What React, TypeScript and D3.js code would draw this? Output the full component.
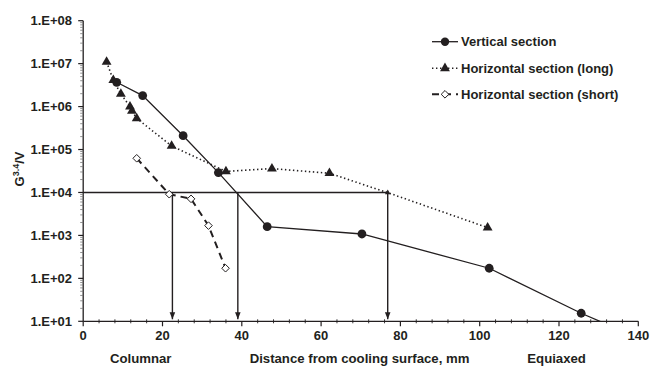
import React from 'react';
import * as d3 from 'd3';

const verticalX = [8.45, 15.0, 25.2, 34.1, 46.4, 70.3, 102.4, 125.6, 135];
const verticalY = [3.68e6, 1.8e6, 2.1e5, 2.9e4, 1.6e3, 1.08e3, 172, 15.4, 6.5];
const longX = [5.9, 7.6, 9.5, 11.8, 12.3, 13.5, 22.3, 36.0, 47.6, 62.1, 76.8, 102.0];
const longY = [1.1e7, 4.1e6, 1.97e6, 1.0e6, 7.9e5, 5.3e5, 1.21e5, 3.1e4, 3.6e4, 2.8e4, 9.9e3, 1.52e3];
const shortX = [13.5, 21.7, 27.2, 31.6, 35.9];
const shortY = [6.25e4, 9.1e3, 7.1e3, 1.69e3, 172];
const arrowX = [22.5, 39.0, 76.8];
const threshold = 1e4;
const xTicks = [0, 20, 40, 60, 80, 100, 120, 140];
const yTicks = [1e1, 1e2, 1e3, 1e4, 1e5, 1e6, 1e7, 1e8];
const yTickLabels = ['1.E+01', '1.E+02', '1.E+03', '1.E+04', '1.E+05', '1.E+06', '1.E+07', '1.E+08'];
const legendLabels = ['Vertical section', 'Horizontal section (long)', 'Horizontal section (short)'];
const bottomLabels = ['Columnar', 'Distance from cooling surface, mm', 'Equiaxed'];
const bottomLabelX = [14.5, 69.7, 119.4];

const INK = '#231f20';
const FONT = '"Liberation Sans", Arial, sans-serif';

export default function App() {
  const left = 83.2, right = 638.3, top = 20.7, bottom = 321.3;
  const x = d3.scaleLinear().domain([0, 140]).range([left, right]);
  const y = d3.scaleLog().domain([10, 1e8]).range([bottom, top]);

  const line = d3.line<[number, number]>().x(d => x(d[0])).y(d => y(d[1]));
  const vData = verticalX.map((v, i) => [v, verticalY[i]] as [number, number]);
  const lData = longX.map((v, i) => [v, longY[i]] as [number, number]);
  const sData = shortX.map((v, i) => [v, shortY[i]] as [number, number]);

  const tri = d3.symbol().type(d3.symbolTriangle).size(42)()!;
  const triSmall = d3.symbol().type(d3.symbolTriangle).size(14)()!;
  const diamond = 'M0,-3.8L3.8,0L0,3.8L-3.8,0Z';

  const minorY: number[] = [];
  for (let e = 1; e < 8; e++) for (let m = 2; m <= 9; m++) minorY.push(m * Math.pow(10, e));
  const minorX: number[] = [];
  for (let v = 0; v <= 140; v += 4) if (v % 20 !== 0) minorX.push(v);

  const ty = y(threshold);

  const legendY = [41.7, 68.3, 94.3];

  return (
    <svg width={650} height={368} style={{ position: 'absolute', left: 0, top: 0, background: '#fff' }} fontFamily={FONT}>
      <defs>
        <clipPath id="plot">
          <rect x={left} y={top - 10} width={right - left} height={bottom - top + 10} />
        </clipPath>
        <marker id="arr" viewBox="0 0 10 10" refX="10" refY="5" markerWidth="7" markerHeight="7" orient="auto" markerUnits="userSpaceOnUse">
          <path d="M0,1L10,5L0,9Z" fill={INK} />
        </marker>
      </defs>

      {/* threshold line and arrows */}
      <line x1={x(0)} x2={x(arrowX[2])} y1={ty} y2={ty} stroke={INK} strokeWidth={1.4} />
      {arrowX.map((a, i) => (
        <line key={i} x1={x(a)} x2={x(a)} y1={ty} y2={bottom - 2} stroke={INK} strokeWidth={1.4} markerEnd="url(#arr)" />
      ))}

      <g clipPath="url(#plot)">
        <path d={line(vData)!} fill="none" stroke={INK} strokeWidth={1.3} />
        <path d={line(lData)!} fill="none" stroke={INK} strokeWidth={1.6} strokeDasharray="1.4,2.6" />
        <path d={line(sData)!} fill="none" stroke={INK} strokeWidth={2} strokeDasharray="7,5" />
        {vData.map((d, i) => (
          <circle key={i} cx={x(d[0])} cy={y(d[1])} r={4.4} fill={INK} />
        ))}
        {lData.map((d, i) => (
          <path key={i} d={i === 10 ? triSmall : tri} transform={`translate(${x(d[0])},${y(d[1])})`} fill={INK} />
        ))}
        {sData.map((d, i) => (
          <path key={i} d={diamond} transform={`translate(${x(d[0])},${y(d[1])})`} fill="#fff" stroke={INK} strokeWidth={1} />
        ))}
      </g>

      {/* axes */}
      <line x1={left} x2={left} y1={top} y2={bottom} stroke={INK} strokeWidth={1.3} />
      <line x1={left} x2={right} y1={bottom} y2={bottom} stroke={INK} strokeWidth={1.3} />
      {yTicks.map((t, i) => (
        <g key={i}>
          <line x1={left - 5} x2={left} y1={y(t)} y2={y(t)} stroke={INK} strokeWidth={1.2} />
          <text x={72} y={y(t)} dy="0.35em" textAnchor="end" fontSize={13} fontWeight="bold" fill={INK}>{yTickLabels[i]}</text>
        </g>
      ))}
      {minorY.map((t, i) => (
        <line key={i} x1={left - 3} x2={left} y1={y(t)} y2={y(t)} stroke="#777" strokeWidth={0.8} />
      ))}
      {xTicks.map((t, i) => (
        <g key={i}>
          <line x1={x(t)} x2={x(t)} y1={bottom} y2={bottom + 5} stroke={INK} strokeWidth={1.2} />
          <text x={x(t)} y={340} textAnchor="middle" fontSize={13} fontWeight="bold" fill={INK}>{t}</text>
        </g>
      ))}
      {minorX.map((t, i) => (
        <line key={i} x1={x(t)} x2={x(t)} y1={bottom - 2} y2={bottom + 2} stroke={INK} strokeWidth={0.9} />
      ))}

      {bottomLabels.map((l, i) => (
        <text key={i} x={x(bottomLabelX[i])} y={363} textAnchor="middle" fontSize={13.2} fontWeight="bold" fill={INK}>{l}</text>
      ))}

      <text transform="translate(24,169) rotate(-90)" textAnchor="middle" fontSize={13} fontWeight="bold" fill={INK}>
        G<tspan dy={-5} fontSize={9}>3.4</tspan><tspan dy={5}>/V</tspan>
      </text>

      {/* legend */}
      {legendLabels.map((l, i) => {
        const ly = legendY[i];
        return (
          <g key={i}>
            {i === 0 && <line x1={432} x2={458} y1={ly} y2={ly} stroke={INK} strokeWidth={1.3} />}
            {i === 1 && <line x1={432} x2={458} y1={ly} y2={ly} stroke={INK} strokeWidth={1.6} strokeDasharray="1.4,2.6" />}
            {i === 2 && <line x1={432} x2={458} y1={ly} y2={ly} stroke={INK} strokeWidth={2} strokeDasharray="7,5" />}
            {i === 0 && <circle cx={445} cy={ly} r={4.2} fill={INK} />}
            {i === 1 && <path d={tri} transform={`translate(445,${ly})`} fill={INK} />}
            {i === 2 && <path d={diamond} transform={`translate(445,${ly})`} fill="#fff" stroke={INK} strokeWidth={1} />}
            <text x={461} y={ly} dy="0.35em" fontSize={13} fontWeight="bold" fill={INK}>{l}</text>
          </g>
        );
      })}
    </svg>
  );
}
